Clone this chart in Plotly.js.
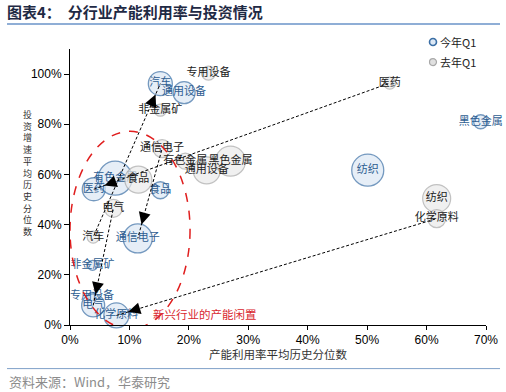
<!DOCTYPE html>
<html>
<head>
<meta charset="utf-8">
<script src="https://cdn.plot.ly/plotly-3.0.1.min.js"></script>
<style>
  html, body { margin: 0; padding: 0; background: #fff; }
  #chart { width: 506px; height: 392px; }
</style>
</head>
<body>
<div id="chart"></div>
<script>
// ---------- data ----------
var industries = ['汽车','通用设备','专用设备','黑色金属','纺织','医药','有色金属','食品','通信电子','非金属矿','电气','化学原料'];

// 今年Q1
var curX    = [15.2, 19.2,  3.7, 69.1, 50.1,  4.0,  7.6, 15.2, 11.4,  3.8,  3.9,  7.8];
var curY    = [96.2, 92.6, 11.4, 81.0, 61.7, 54.1, 58.5, 53.7, 34.5, 23.8,  7.8,  3.8];
var curSize = [24,   22,    8,   14,   32,   23,   34,   17,   29,   10,   23,   25];

// 去年Q1
var prevX    = [ 3.9, 23.0,  23.3, 27.0, 61.7, 53.8, 19.4, 11.5, 15.5, 15.2,  7.3, 61.7];
var prevY    = [35.0, 61.6, 100.4, 65.3, 50.4, 96.4, 65.3, 57.9, 70.3, 85.6, 46.5, 42.4];
var prevSize = [12,   27,    14,   30,   28,   12,   16,   27,   18,   12,   18,   18];

var arrowIndustries = ['汽车','医药','电气','通信电子','化学原料'];

var xTickVals = [0,10,20,30,40,50,60,70];
var xTickText = ['0%','10%','20%','30%','40%','50%','60%','70%'];
var yTickVals = [0,20,40,60,80,100];
var yTickText = ['0%','20%','40%','60%','80%','100%'];

var seriesNames = ['今年Q1','去年Q1'];

// ---------- styles ----------
var CJK = '"Noto Sans CJK SC", "Noto Sans", sans-serif';
var LAT = '"Liberation Sans", Arial, sans-serif';
var blueFill = '#dce8f5', blueLine = '#3a6ea5', blueText = '#2e5d91';
var grayFill = '#ebebeb', grayLine = '#a8a8a8', grayText = '#222222';

var traceCur = {
  type: 'scatter', mode: 'markers+text', name: seriesNames[0],
  x: curX, y: curY, text: industries, textposition: 'middle center',
  textfont: {family: CJK, size: 11, color: blueText},
  marker: {size: curSize, sizemode: 'diameter', color: blueFill,
           line: {color: blueLine, width: 1.3}},
  cliponaxis: false, showlegend: false, hoverinfo: 'skip'
};
var tracePrev = {
  type: 'scatter', mode: 'markers+text', name: seriesNames[1],
  x: prevX, y: prevY, text: industries, textposition: 'middle center',
  textfont: {family: CJK, size: 11, color: grayText},
  marker: {size: prevSize, sizemode: 'diameter', color: grayFill,
           line: {color: grayLine, width: 1.2}},
  cliponaxis: false, showlegend: false, hoverinfo: 'skip'
};

// arrows from last year to this year
var annotations = [];
arrowIndustries.forEach(function(name){
  var i = industries.indexOf(name);
  annotations.push({
    x: curX[i], y: curY[i], xref: 'x', yref: 'y',
    ax: prevX[i], ay: prevY[i], axref: 'x', ayref: 'y',
    text: '', showarrow: true, arrowhead: 2, arrowsize: 2.4, arrowwidth: 1,
    arrowcolor: '#000000', standoff: curSize[i] / 2, startstandoff: prevSize[i] / 2
  });
});

// red annotation text
annotations.push({
  x: 13.6, y: 4.2, xref: 'x', yref: 'y', xanchor: 'left', yanchor: 'middle',
  text: '新兴行业的产能闲置', showarrow: false,
  font: {family: CJK, size: 11.5, color: '#d9272e'}
});

// y axis title, vertical stacked
annotations.push({
  x: -0.103, y: 0.55, xref: 'paper', yref: 'paper', xanchor: 'center', yanchor: 'middle',
  text: '投资增速平均历史分位数'.split('').join('<br>'), showarrow: false,
  font: {family: CJK, size: 9, color: '#333333'}
});

// x axis title
annotations.push({
  x: 0.5, y: -0.104, xref: 'paper', yref: 'paper', xanchor: 'center', yanchor: 'middle',
  text: '产能利用率平均历史分位数', showarrow: false,
  font: {family: CJK, size: 11.5, color: '#333333'}
});

// source
annotations.push({
  x: -0.1514, y: -0.205, xref: 'paper', yref: 'paper', xanchor: 'left', yanchor: 'middle',
  text: '资料来源：Wind，华泰研究', showarrow: false,
  font: {family: CJK, size: 13, color: '#8c8c8c'}
});

// legend texts
var legY = [1.0254, 0.9528];
seriesNames.forEach(function(n, k){
  annotations.push({
    x: 0.8846, y: legY[k], xref: 'paper', yref: 'paper', xanchor: 'left', yanchor: 'middle',
    text: n, showarrow: false, font: {family: CJK, size: 11, color: '#222222'}
  });
});

var shapes = [
  // red dashed ellipse
  {type: 'circle', xref: 'x', yref: 'y', x0: 0, x1: 20.2, y0: -1.5, y1: 77.2,
   line: {color: '#e01e1e', width: 1.5, dash: 'dash'}, layer: 'above'},
  // title underline
  {type: 'line', xref: 'paper', yref: 'paper', x0: -0.1514, x1: 1.0337, y0: 1.0907, y1: 1.0907,
   line: {color: '#6a93c8', width: 1.5}},
  // source line
  {type: 'line', xref: 'paper', yref: 'paper', x0: -0.1514, x1: 1.0337, y0: -0.158, y1: -0.158,
   line: {color: '#7fa0c8', width: 1}},
  // legend markers
  {type: 'circle', xref: 'paper', yref: 'paper', xsizemode: 'pixel', ysizemode: 'pixel',
   xanchor: 0.8726, yanchor: legY[0], x0: -3.5, x1: 3.5, y0: -3.5, y1: 3.5,
   fillcolor: blueFill, line: {color: blueLine, width: 1.6}},
  {type: 'circle', xref: 'paper', yref: 'paper', xsizemode: 'pixel', ysizemode: 'pixel',
   xanchor: 0.8726, yanchor: legY[1], x0: -3.5, x1: 3.5, y0: -3.5, y1: 3.5,
   fillcolor: '#e0e0e0', line: {color: grayLine, width: 1.2}}
];

var layout = {
  width: 506, height: 392,
  margin: {l: 70, r: 20, t: 49, b: 67, pad: 0},
  paper_bgcolor: '#ffffff', plot_bgcolor: '#ffffff',
  showlegend: false,
  title: {
    text: '<b>图表4：\u00a0\u00a0分行业产能利用率与投资情况</b>',
    x: 7/506, xanchor: 'left', xref: 'container',
    y: 1 - 13/392, yanchor: 'middle', yref: 'container',
    font: {family: CJK, size: 15, color: '#1f2a44'}
  },
  xaxis: {
    range: [0, 70], tickvals: xTickVals, ticktext: xTickText,
    showgrid: false, zeroline: false, showline: true, linecolor: '#000', linewidth: 1,
    ticks: 'outside', ticklen: 4, tickcolor: '#000', tickwidth: 1,
    tickfont: {family: LAT, size: 12, color: '#000'}
  },
  yaxis: {
    range: [0, 110], tickvals: yTickVals, ticktext: yTickText,
    showgrid: false, zeroline: false, showline: true, linecolor: '#000', linewidth: 1,
    ticks: 'outside', ticklen: 5, tickcolor: '#000', tickwidth: 1,
    tickfont: {family: LAT, size: 12, color: '#000'}
  },
  annotations: annotations,
  shapes: shapes
};

function dashArrows(){
  var paths = document.querySelectorAll('.annotation-arrow-g path');
  paths.forEach(function(p){ p.style.strokeDasharray = '3,2'; });
}

Plotly.newPlot('chart', [traceCur, tracePrev], layout, {displayModeBar: false})
  .then(function(gd){
    dashArrows();
    gd.on('plotly_afterplot', dashArrows);
  });
</script>
</body>
</html>
